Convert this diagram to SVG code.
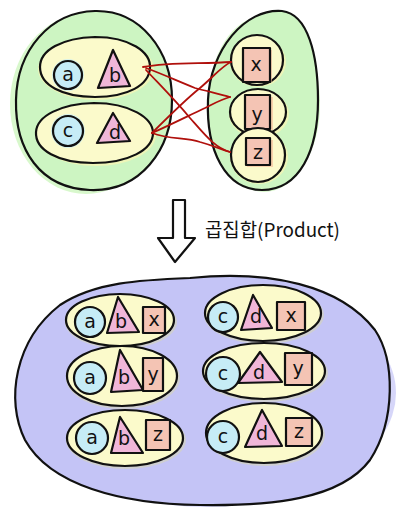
<svg xmlns="http://www.w3.org/2000/svg" width="400" height="511" viewBox="0 0 400 511">
<style>
.ol{stroke:#111;stroke-width:2.2;stroke-linecap:round;stroke-linejoin:round}
.green{fill:#cdf5c2}
.greenh{fill:#d8f8cc}
.yel{fill:#fbfacb}
.yelh{fill:#eef5b8}
.cir{fill:#c6ecf6}
.tri{fill:#f0b6d8}
.trih{fill:#f4b8a8}
.box{fill:#f4c4b4}
.boxh{fill:#f6b898}
.blue{fill:#c4c4f6}
.grey{fill:#d6d6b8}
.lbl{font-family:"DejaVu Sans","Noto Sans",sans-serif;font-size:19px;fill:#111;text-anchor:middle;dominant-baseline:central}
.conn{fill:none;stroke:#b0100c;stroke-width:1.8;stroke-linecap:round}
</style>
<rect width="400" height="511" fill="#fff"/>

<g id="setA">
  <ellipse cx="86" cy="104" rx="76" ry="90" class="greenh"/>
  <path class="ol green" d="M95,11 C140,10 172,50 172,100 C172,150 140,192 90,190 C40,188 15,150 16,100 C17,50 50,12 95,11 Z"/>
</g>
<g id="pairAB">
  <ellipse cx="96" cy="69" rx="58" ry="31" class="yelh"/>
  <path class="ol yel" d="M95,37 C130,37 151,52 150,68 C149,85 128,97 95,97 C62,97 40,85 40,67 C40,50 62,38 95,37 Z"/>
  <g id="a1"><circle cx="68" cy="75" r="16" class="cir" opacity="0.7"/><circle cx="68" cy="75" r="14" class="ol cir"/><text x="68" y="74" class="lbl">a</text></g>
  <g id="b1"><polygon points="113,52 96,89 132,87" class="trih" opacity="0.6"/><polygon points="113,50 98,88 130,86" class="ol tri"/><text x="115" y="75" class="lbl">b</text></g>
</g>
<g id="pairCD">
  <ellipse cx="96" cy="135" rx="60" ry="31" class="yelh"/>
  <path class="ol yel" d="M94,103 C130,103 153,118 153,133 C153,150 128,163 93,163 C58,163 35,150 36,132 C37,116 60,104 94,103 Z"/>
  <g id="c1"><circle cx="68" cy="131" r="17" class="cir" opacity="0.7"/><circle cx="68" cy="131" r="15" class="ol cir"/><text x="68" y="130" class="lbl">c</text></g>
  <g id="d1"><polygon points="113,115 95,144 132,142" class="trih" opacity="0.6"/><polygon points="113,113 97,143 130,141" class="ol tri"/><text x="115" y="132" class="lbl">d</text></g>
</g>

<g id="setB">
  <ellipse cx="264" cy="104" rx="56" ry="88" class="greenh"/>
  <path class="ol green" d="M282,11 C308,14 318,55 318,100 C318,150 300,190 262,190 C225,190 206,150 208,100 C210,50 245,8 282,11 Z"/>
</g>
<g id="elX">
  <ellipse cx="258" cy="62" rx="28" ry="25" class="yelh"/>
  <ellipse cx="257" cy="60" rx="26" ry="25" class="ol yel"/>
  <rect x="244" y="50" width="28" height="32" class="boxh" opacity="0.6"/>
  <rect x="243" y="48" width="27" height="34" class="ol box"/>
  <text x="256" y="64" class="lbl">x</text>
</g>
<g id="elY">
  <ellipse cx="259" cy="114" rx="30" ry="24" class="yelh"/>
  <ellipse cx="258" cy="112" rx="28" ry="23" class="ol yel"/>
  <rect x="246" y="97" width="27" height="33" class="boxh" opacity="0.6"/>
  <rect x="245" y="95" width="25" height="34" class="ol box"/>
  <text x="257" y="114" class="lbl">y</text>
</g>
<g id="elZ">
  <ellipse cx="259" cy="157" rx="29" ry="27" class="yelh"/>
  <ellipse cx="258" cy="155" rx="27" ry="27" class="ol yel"/>
  <rect x="247" y="140" width="26" height="27" class="boxh" opacity="0.6"/>
  <rect x="246" y="138" width="24" height="27" class="ol box"/>
  <text x="258" y="152" class="lbl">z</text>
</g>

<g id="connectors">
  <path class="conn" d="M143,67 C170,62 200,64 231,62"/>
  <path class="conn" d="M146,68 C165,75 175,80 195,88 C210,92 220,94 230,97"/>
  <path class="conn" d="M146,70 C160,85 175,100 190,118 C205,135 215,148 230,152"/>
  <path class="conn" d="M152,133 C170,115 185,100 200,88 C212,78 222,66 231,62"/>
  <path class="conn" d="M152,133 C170,125 190,115 205,108 C215,103 222,99 230,97"/>
  <path class="conn" d="M152,133 C170,140 185,137 200,142 C215,146 222,150 230,152"/>
</g>

<g id="arrow">
  <polygon class="ol" fill="#fff" points="173,200 185,200 185,238 195,238 175,262 158,238 173,238"/>
  <text x="205" y="228" font-family="'Noto Sans CJK KR','Noto Sans',sans-serif" font-size="19" fill="#111" dominant-baseline="central" textLength="135" lengthAdjust="spacingAndGlyphs">곱집합(Product)</text>
</g>

<g id="product">
  <ellipse cx="206" cy="393" rx="190" ry="114" class="blue" opacity="0.7"/>
  <path class="ol blue" d="M190,278 C270,270 340,285 375,330 C395,360 396,420 370,460 C340,500 270,506 200,505 C120,504 50,485 25,440 C5,400 15,340 60,305 C95,282 140,280 190,278 Z"/>
</g>

<g id="abx">
  <ellipse cx="121" cy="322" rx="56" ry="27" class="grey" opacity="0.6"/>
  <ellipse cx="120" cy="320" rx="54" ry="26" class="ol yel"/>
  <circle cx="90" cy="322" r="15" class="ol cir"/><text x="90" y="321" class="lbl">a</text>
  <polygon points="118,297 107,333 139,332" class="ol tri"/><text x="121" y="321" class="lbl">b</text>
  <rect x="143" y="307" width="22" height="26" class="ol box"/><text x="154" y="319" class="lbl">x</text>
</g>
<g id="aby">
  <ellipse cx="123" cy="378" rx="57" ry="31" class="grey" opacity="0.6"/>
  <ellipse cx="122" cy="376" rx="55" ry="30" class="ol yel"/>
  <circle cx="90" cy="378" r="16" class="ol cir"/><text x="90" y="377" class="lbl">a</text>
  <polygon points="120,350 111,392 143,390" class="ol tri"/><text x="124" y="377" class="lbl">b</text>
  <rect x="143" y="358" width="20" height="33" class="ol box"/><text x="153" y="374" class="lbl">y</text>
</g>
<g id="abz">
  <ellipse cx="126" cy="440" rx="60" ry="29" class="grey" opacity="0.6"/>
  <ellipse cx="125" cy="438" rx="58" ry="28" class="ol yel"/>
  <circle cx="92" cy="438" r="16" class="ol cir"/><text x="92" y="437" class="lbl">a</text>
  <polygon points="120,417 111,453 143,453" class="ol tri"/><text x="124" y="438" class="lbl">b</text>
  <rect x="146" y="420" width="24" height="30" class="ol box"/><text x="158" y="434" class="lbl">z</text>
</g>
<g id="cdx">
  <ellipse cx="264" cy="315" rx="60" ry="29" class="grey" opacity="0.6"/>
  <ellipse cx="263" cy="313" rx="58" ry="28" class="ol yel"/>
  <circle cx="223" cy="317" r="15" class="ol cir"/><text x="223" y="316" class="lbl">c</text>
  <polygon points="253,295 241,330 272,328" class="ol tri"/><text x="256" y="316" class="lbl">d</text>
  <rect x="277" y="302" width="28" height="28" class="ol box"/><text x="291" y="315" class="lbl">x</text>
</g>
<g id="cdy">
  <ellipse cx="265" cy="373" rx="63" ry="29" class="grey" opacity="0.6"/>
  <ellipse cx="264" cy="371" rx="61" ry="28" class="ol yel"/>
  <circle cx="223" cy="374" r="17" class="ol cir"/><text x="223" y="373" class="lbl">c</text>
  <polygon points="260,352 238,383 282,382" class="ol tri"/><text x="259" y="372" class="lbl">d</text>
  <rect x="285" y="353" width="27" height="32" class="ol box"/><text x="298" y="368" class="lbl">y</text>
</g>
<g id="cdz">
  <ellipse cx="265" cy="435" rx="60" ry="31" class="grey" opacity="0.6"/>
  <ellipse cx="264" cy="433" rx="58" ry="30" class="ol yel"/>
  <circle cx="223" cy="437" r="16" class="ol cir"/><text x="223" y="436" class="lbl">c</text>
  <polygon points="262,410 245,447 282,446" class="ol tri"/><text x="262" y="433" class="lbl">d</text>
  <rect x="286" y="418" width="26" height="28" class="ol box"/><text x="299" y="431" class="lbl">z</text>
</g>
</svg>
